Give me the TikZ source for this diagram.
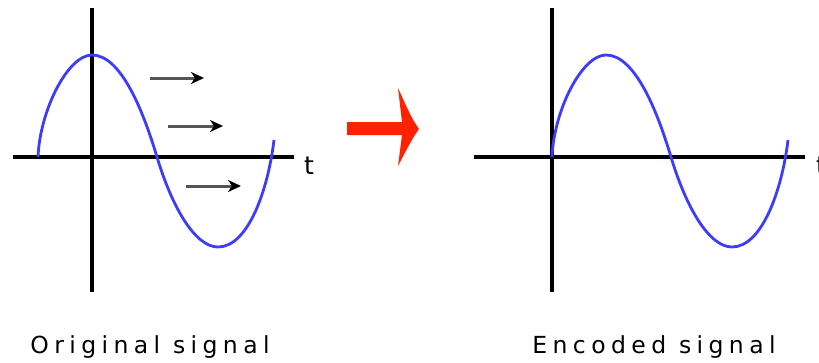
\documentclass[tikz,border=0pt]{standalone}
\usepackage{fontspec}
\usetikzlibrary{arrows.meta}
\newfontfamily\lblfont[LetterSpace=23]{DejaVu Sans}
\newfontfamily\tfont{DejaVu Sans}
\definecolor{sigblue}{RGB}{60,60,250}
\definecolor{arrred}{RGB}{255,34,0}
\definecolor{shaftgray}{RGB}{85,85,85}
\tikzset{
  axis/.style={draw=black, line width=3.2pt},
  sig/.style={draw=sigblue, line width=2.8pt, line join=round},
  move/.style={draw=shaftgray, line width=3pt, -{Stealth[length=13pt,width=12pt,inset=4pt,color=black]}},
  lbl/.style={anchor=base, inner sep=0pt, font=\lblfont\fontsize{23.5}{28}\selectfont},
  tlbl/.style={inner sep=0pt, font=\tfont\fontsize{25}{30}\selectfont}
}
\newcommand{\sigcurve}{%
  (38,157) .. controls (40,110) and (68,55) .. (92,55)
  .. controls (120,55) and (142,107) .. (157,157)
  .. controls (172,207) and (195,247) .. (218,247)
  .. controls (248,247) and (268,190) .. (274,140)}
\begin{document}
\begin{tikzpicture}[x=1pt,y=-1pt]
\clip (0,0) rectangle (819,362);
\fill[white] (0,0) rectangle (819,362);
% left panel
\coordinate (lh1) at (13,157); \coordinate (lh2) at (294,157);
\coordinate (lv1) at (92,8);   \coordinate (lv2) at (92,292);
\draw[axis] (lh1) -- (lh2);
\draw[axis] (lv1) -- (lv2);
\draw[sig] \sigcurve;
\node[tlbl] (tl) at (309,166) {t};
\coordinate (a1s) at (150,78);  \coordinate (a1e) at (204,78);
\coordinate (a2s) at (168,126); \coordinate (a2e) at (223,126);
\coordinate (a3s) at (186,186); \coordinate (a3e) at (241,186);
\draw[move] (a1s) -- (a1e);
\draw[move] (a2s) -- (a2e);
\draw[move] (a3s) -- (a3e);
\node[lbl] (orig) at (150,353) {Original signal};
% red arrow
\fill[arrred] (347,122) -- (402,122) -- (398,88)
  .. controls (405,103) and (411,118) .. (419,129)
  .. controls (411,140) and (405,153) .. (398,166)
  -- (402,135) -- (347,135) -- cycle;
% right panel
\coordinate (rh1) at (474,157); \coordinate (rh2) at (805,157);
\coordinate (rv1) at (552,8);   \coordinate (rv2) at (552,292);
\draw[axis] (rh1) -- (rh2);
\draw[axis] (rv1) -- (rv2);
\begin{scope}[xshift=514pt]
\draw[sig] \sigcurve;
\end{scope}
\node[tlbl] (tr) at (821,166) {t};
\node[lbl] (enc) at (654,353) {Encoded signal};
\end{tikzpicture}
\end{document}
